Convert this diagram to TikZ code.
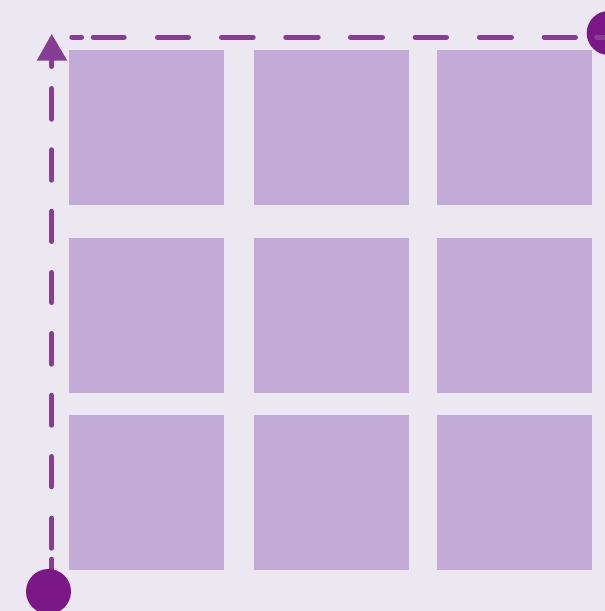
\documentclass[tikz,border=0pt]{standalone}
\definecolor{bgc}{HTML}{ECE8F2}
\definecolor{sqc}{HTML}{C3ABD7}
\definecolor{linec}{HTML}{873D91}
\definecolor{dotc}{HTML}{7B1786}
\tikzset{
  sq/.style={fill=sqc, draw=none, inner sep=0pt, minimum width=155pt, minimum height=155pt, anchor=north west},
  dashline/.style={draw=linec, line width=5pt, line cap=round},
  dot/.style={circle, fill=dotc, draw=none, inner sep=0pt},
}
\begin{document}
\begin{tikzpicture}[x=1pt,y=-1pt]
\useasboundingbox (0,0) rectangle (605,611);
\clip (0,0) rectangle (605,611);
\fill[bgc] (0,0) rectangle (605,611);
% grid of squares
\node[sq] (s11) at (68.7,50) {};
\node[sq] (s12) at (254,50) {};
\node[sq] (s13) at (437,50) {};
\node[sq] (s21) at (68.7,238) {};
\node[sq] (s22) at (254,238) {};
\node[sq] (s23) at (437,238) {};
\node[sq] (s31) at (68.7,415) {};
\node[sq] (s32) at (254,415) {};
\node[sq] (s33) at (437,415) {};
% vertical dashed line
\foreach \a/\b in {55/66.5, 88.5/119.2, 149.8/180.2, 211.2/241.5, 272.5/302.5, 333.5/364.2, 395.2/425.2, 456.5/486.8, 518.2/548.2, 559.2/585}
  \draw[dashline] (51.8,\a) -- (51.8,\b);
% arrow head
\fill[linec] (51.7,34) -- (67.3,60.7) -- (36.7,60.7) -- cycle;
% bottom-left dot
\node[dot, minimum size=45pt] (start) at (48.5,591.5) {};
% top-right dot
\node[dot, minimum size=44pt] (end) at (608.7,33) {};
% top dashed line
\foreach \a/\b in {71.8/81.5, 93.2/124.2, 157.5/188.5, 221.5/253.2, 285.8/318.2, 350.5/382.5, 415.2/446.5, 479.5/511.5, 544.2/575.5, 596.5/615}
  \draw[dashline] (\a,37.2) -- (\b,37.2);
\end{tikzpicture}
\end{document}
